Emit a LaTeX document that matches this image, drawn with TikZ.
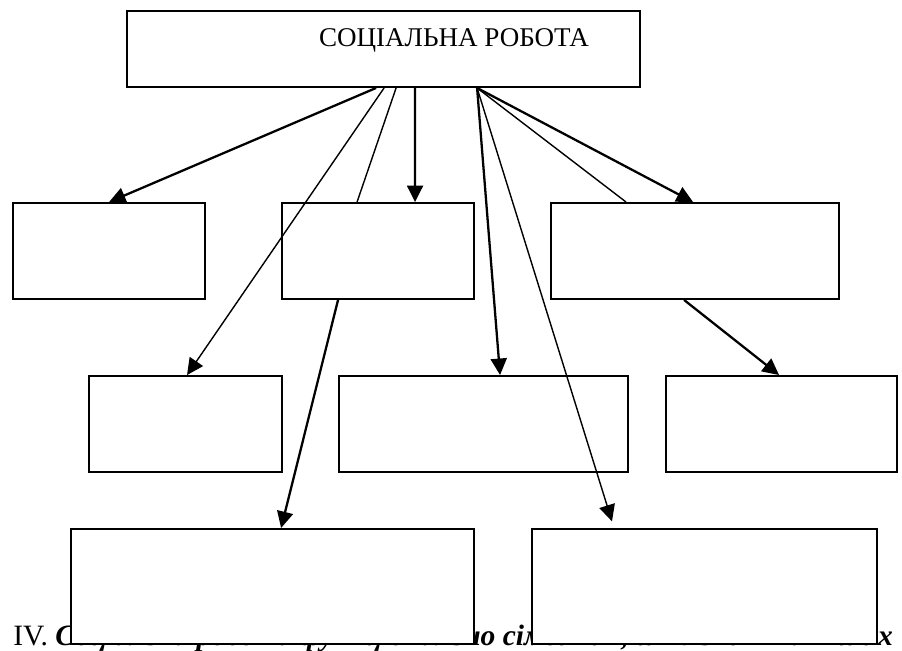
\documentclass[tikz,border=0pt]{standalone}
\usepackage{fontspec}
\setmainfont{Liberation Serif}
\usetikzlibrary{arrows.meta,calc}
\tikzset{
    box/.style = {draw, rectangle, fill=white, line width=1.1pt,
        minimum height=1.92cm, inner sep=0pt},
    arrow/.style = {draw, line width=1.3pt, -{Triangle[length=0.33cm,width=0.32cm]}},
    thinarrow/.style = {draw, line width=0.8pt, -{Triangle[length=0.33cm,width=0.32cm]}},
    link/.style = {draw, line width=0.8pt}
}

\begin{document}
\begin{tikzpicture}[x=0.02cm,y=-0.02cm]
            \useasboundingbox (0,0) rectangle (902,651);
            \node[anchor=base west, inner sep=0pt, font=\fontsize{16.8}{19}\selectfont] (caption) at (13,645)
                {IV. {\bfseries\itshape Соціальна робота функціонально сімейних, шкільних та інших}};
            \node[box, minimum width=10.26cm, minimum height=1.52cm] (top) at (383.5,49) {};
            \node[anchor=base, font=\fontsize{15.4}{17}\selectfont] (title) at (454,47) {СОЦІАЛЬНА РОБОТА};
            \node[box, minimum width=3.84cm] (A) at (109,251) {};
            \node[box, minimum width=3.84cm] (B) at (378,251) {};
            \node[box, minimum width=5.76cm] (C) at (695,251) {};
            \node[box, minimum width=3.86cm] (D) at (185.5,424) {};
            \node[box, minimum width=5.78cm] (E) at (483.5,424) {};
            \node[box, minimum width=4.62cm] (F) at (781.5,424) {};
            \node[box, minimum width=8.06cm, minimum height=2.3cm] (G) at (272.5,586.5) {};
            \node[box, minimum width=6.9cm, minimum height=2.3cm] (H) at (704.5,586.5) {};
            % start points on the lower side of the top box
            \coordinate (s1) at ($(top.south west)+(250,0)$);
            \coordinate (s2) at ($(top.south west)+(258,0)$);
            \coordinate (s3) at ($(top.south west)+(270,0)$);
            \coordinate (s4) at ($(top.south west)+(289,0)$);
            \coordinate (s5) at ($(top.south west)+(351,0)$);
            % connectors
            \draw[arrow] (s1) -- ($(A.north west)+(97,0)$);
            \draw[thinarrow] (s2) -- ($(D.north west)+(99,0)$);
            \draw[link] (s3) -- ($(B.north west)+(76,0)$);
            \draw[arrow] ($(B.south west)+(57,0)$) -- ($(G.north west)+(211,0)$);
            \draw[arrow] (s4) -- ($(B.north west)+(134,0)$);
            \draw[arrow] (s5) -- ($(E.north west)+(162,0)$);
            \draw[thinarrow, shorten >=0.14cm] (s5) -- ($(H.north west)+(83,0)$);
            \draw[link] (s5) -- ($(C.north west)+(76,0)$);
            \draw[arrow] (s5) -- ($(C.north west)+(143,0)$);
            \draw[arrow] ($(C.south west)+(134,0)$) -- ($(F.north west)+(114,0)$);
        \end{tikzpicture}
\end{document}
